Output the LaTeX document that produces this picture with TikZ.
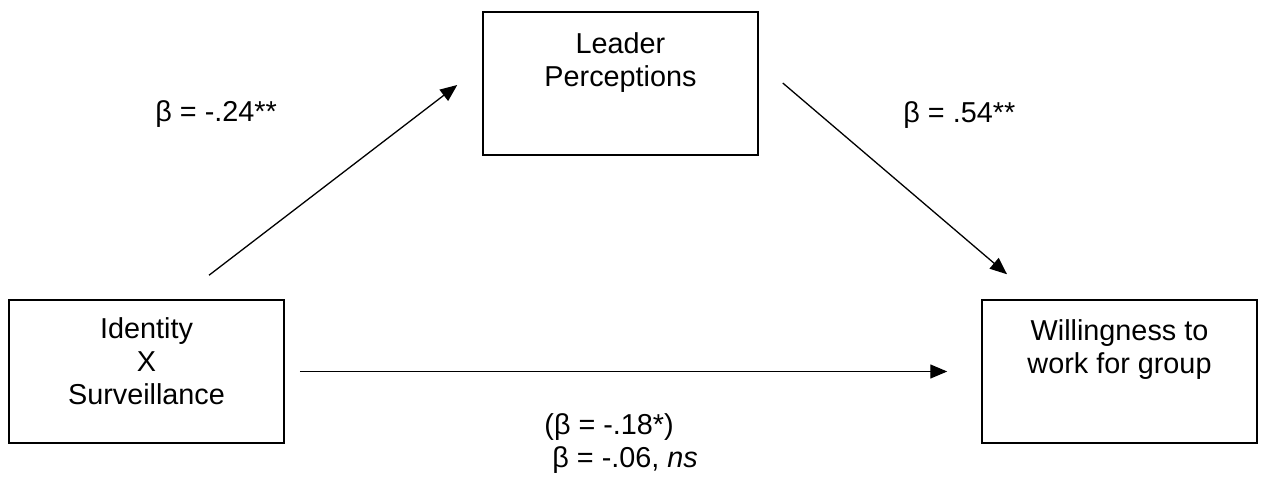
\documentclass[tikz,border=0pt]{standalone}
\usepackage{fontspec}
\setmainfont{Liberation Sans}
\usepackage{tikz}
\usetikzlibrary{arrows.meta, positioning}

\begin{document}
\begin{tikzpicture}[
    x=0.5pt, y=0.5pt,
    box/.style={rectangle, draw=black, line width=0.75pt, minimum width=137.5pt, minimum height=71.5pt},
    txt/.style={inner sep=0pt, align=center, font=\fontsize{14.4}{16.6}\selectfont},
    coef/.style={inner sep=0pt, anchor=base west, font=\fontsize{14.4}{16.6}\selectfont},
    arrow/.style={->, >={Triangle[length=8.5pt, width=7pt]}, line width=0.65pt}
]
\useasboundingbox (0,0) rectangle (1261,477);

% Boxes
\node[box] (lp) at (620.5,393.5) {};
\node[box] (ix) at (146.5,105.5) {};
\node[box] (wg) at (1119.5,105.5) {};

% Box texts
\node[txt, below=10.5pt of lp.north] (lptext) {Leader\\Perceptions};
\node[txt, below=9pt of ix.north] (ixtext) {Identity\\X\\Surveillance};
\node[txt, below=10pt of wg.north] (wgtext) {Willingness to\\work for group};

% Paths
\draw[arrow] ([shift={(62.5,24)}]ix.north) -- ([shift={(-25,-1.5)}]lp.west);
\draw[arrow] ([shift={(24,0.5)}]lp.east) -- ([shift={(-112.5,25)}]wg.north);
\draw[arrow] ([xshift=7.5pt]ix.east) -- ([xshift=-17pt]wg.west);

% Coefficients
\node[coef] (c1) at (155,355) {β = -.24**};
\node[coef] (c2) at (903,354) {β = .54**};
\node[coef] (c3) at (544,43) {(β = -.18*)};
\node[coef] (c4) at (552,10) {β = -.06, \textit{ns}};

\end{tikzpicture}
\end{document}
